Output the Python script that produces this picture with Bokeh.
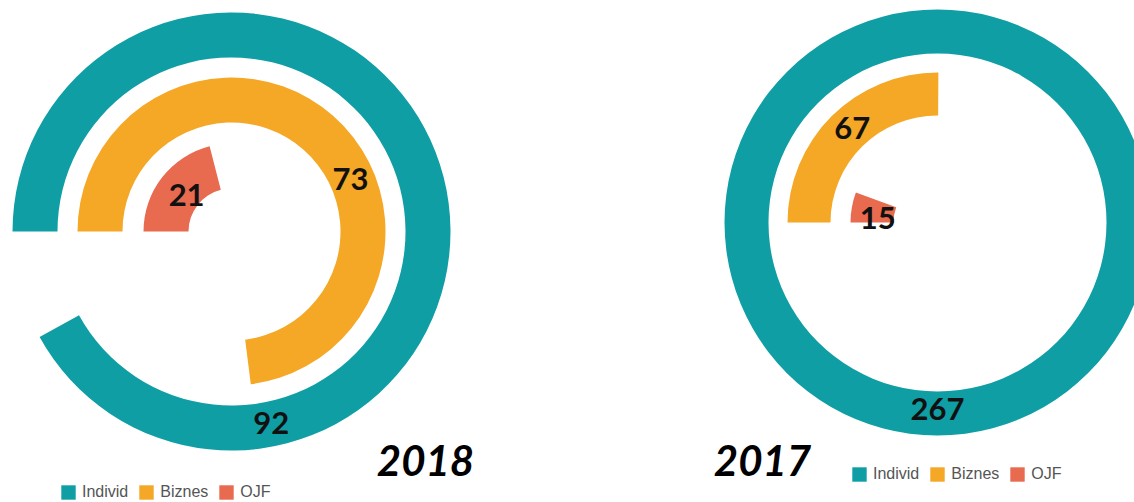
import math
from bokeh.plotting import figure
from bokeh.models import ColumnDataSource, Range1d, Legend, LegendItem
from bokeh.core.properties import value
from bokeh.embed import file_html
from bokeh.resources import INLINE

# ---- data ----
categories = ["Individ", "Biznes", "OJF"]
years = ["2018", "2017"]
values_2018 = [92, 73, 21]
values_2017 = [267, 67, 15]
scale_max = [100, 267]
colors = ["#109EA5", "#F5A726", "#E86B50"]

# ---- layout / style ----
W, H = 1134, 502
charts = [
    dict(vals=values_2018, vmax=scale_max[0], cx=231, cy=271,
         r_in=[174, 109, 43], r_out=[219, 154, 88],
         lab_frac=[0.78, 0.595, 0.52], lab_r=[196, 130, 58],
         year_x=425, year_y=42, legend_loc=(59, 1)),
    dict(vals=values_2017, vmax=scale_max[1], cx=937, cy=280,
         r_in=[169, 107, 44], r_out=[213, 150, 87],
         lab_frac=[0.75, 0.53, 0.2], lab_r=[186, 127, 60],
         year_x=762, year_y=42, legend_loc=(850, 19)),
]

p = figure(width=W, height=H, x_range=Range1d(0, W), y_range=Range1d(0, H),
           output_backend="svg", toolbar_location=None, min_border=0)
p.axis.visible = False
p.grid.visible = False
p.outline_line_color = None
p.background_fill_color = "white"

for ci, ch in enumerate(charts):
    starts, ends, labx, laby = [], [], [], []
    for i, v in enumerate(ch["vals"]):
        sweep = min(2 * math.pi * v / ch["vmax"], 2 * math.pi - 1e-4)
        starts.append(math.pi)
        ends.append(math.pi - sweep)
        a = math.pi - sweep * ch["lab_frac"][i]
        labx.append(ch["cx"] + ch["lab_r"][i] * math.cos(a))
        laby.append(ch["cy"] + ch["lab_r"][i] * math.sin(a))
    src = ColumnDataSource(dict(
        x=[ch["cx"]] * 3, y=[ch["cy"]] * 3, r_in=ch["r_in"], r_out=ch["r_out"],
        start=starts, end=ends, color=colors, cat=categories,
        lx=labx, ly=laby, txt=[str(v) for v in ch["vals"]]))
    r = p.annular_wedge(x="x", y="y", inner_radius="r_in", outer_radius="r_out",
                        start_angle="start", end_angle="end", direction="clock",
                        fill_color="color", line_color=None, source=src)
    p.text(x="lx", y="ly", text="txt", source=src, text_align="center",
           text_baseline="middle", text_font=value("Lato"), text_font_style="bold",
           text_font_size="31px", text_color="#111111")
    p.text(x=[ch["year_x"]], y=[ch["year_y"]], text=[years[ci]], text_align="center",
           text_baseline="middle", text_font=value("Lato"), text_font_style="bold italic",
           text_font_size="42px", text_color="#000000")
    legend = Legend(items=[LegendItem(label=c, renderers=[r], index=i) for i, c in enumerate(categories)],
                    location=ch["legend_loc"], orientation="horizontal",
                    glyph_width=18, glyph_height=18, label_height=18, label_standoff=5,
                    spacing=9, padding=0, margin=0, border_line_color=None,
                    background_fill_alpha=0, label_text_font="Liberation Sans",
                    label_text_font_size="16px", label_text_color="#555555")
    p.add_layout(legend)

open("out.html", "w").write(file_html(p, INLINE))
